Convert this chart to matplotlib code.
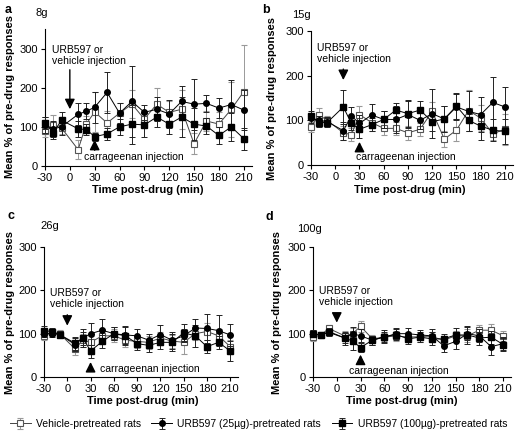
import numpy as np
import matplotlib
matplotlib.use('Agg')
import matplotlib.pyplot as plt

plt.rcParams['font.family'] = ['Liberation Sans', 'DejaVu Sans']
plt.rcParams['axes.unicode_minus'] = False

# sampling times (min relative to drug injection)
time = [-30, -20, -10, 10, 20, 30, 45, 60, 75, 90, 105, 120, 135, 150, 165, 180, 195, 210]

# panel a: 8g filament
veh_a = [90, 105, 97, 42, 108, 138, 110, 135, 158, 120, 158, 137, 145, 57, 115, 107, 145, 190]
veh_a_err = [15, 25, 15, 25, 20, 50, 30, 25, 35, 15, 40, 30, 50, 27, 25, 30, 70, 120]
u25_a = [105, 95, 100, 132, 140, 150, 188, 135, 165, 137, 145, 133, 165, 158, 160, 148, 157, 143]
u25_a_err = [20, 20, 20, 28, 20, 40, 52, 25, 90, 20, 30, 35, 40, 65, 22, 25, 63, 50]
u100_a = [110, 85, 117, 95, 93, 75, 82, 100, 107, 105, 125, 107, 125, 107, 102, 78, 100, 70]
u100_a_err = [15, 15, 20, 20, 15, 10, 15, 20, 50, 30, 25, 25, 50, 40, 20, 22, 35, 28]

# panel b: 15g filament
veh_b = [85, 112, 100, 72, 68, 113, 95, 82, 82, 72, 80, 120, 58, 78, 122, 105, 70, 80]
veh_b_err = [12, 15, 10, 15, 15, 20, 20, 15, 15, 15, 15, 20, 18, 25, 45, 30, 15, 35]
u25_b = [105, 100, 97, 77, 110, 93, 112, 102, 102, 113, 100, 115, 103, 130, 120, 113, 140, 130]
u25_b_err = [10, 10, 10, 20, 20, 20, 25, 20, 30, 30, 20, 55, 30, 30, 45, 40, 57, 45]
u100_b = [110, 95, 95, 130, 93, 80, 90, 102, 123, 115, 123, 97, 103, 132, 100, 87, 78, 75]
u100_b_err = [10, 10, 10, 38, 15, 20, 15, 20, 15, 30, 20, 20, 30, 30, 25, 30, 25, 28]

# panel c: 26g filament
veh_c = [95, 103, 100, 65, 85, 80, 95, 95, 85, 82, 80, 90, 83, 80, 100, 105, 95, 70]
veh_c_err = [10, 8, 8, 15, 15, 15, 15, 15, 15, 15, 15, 15, 15, 27, 15, 20, 15, 15]
u25_c = [100, 100, 98, 75, 90, 100, 108, 100, 97, 95, 85, 98, 85, 95, 113, 112, 107, 97]
u25_c_err = [8, 8, 8, 15, 20, 25, 25, 15, 20, 15, 15, 22, 20, 15, 20, 33, 35, 25]
u100_c = [107, 105, 98, 78, 90, 60, 82, 100, 95, 77, 73, 80, 80, 102, 95, 70, 80, 60]
u100_c_err = [10, 8, 8, 15, 15, 15, 15, 15, 20, 15, 15, 15, 20, 20, 25, 15, 15, 22]

# panel d: 100g filament
veh_d = [92, 97, 112, 95, 100, 117, 88, 92, 95, 92, 93, 93, 85, 95, 95, 108, 108, 95]
veh_d_err = [8, 6, 8, 12, 12, 12, 10, 10, 12, 12, 12, 12, 10, 12, 15, 12, 15, 12]
u25_d = [100, 97, 105, 90, 100, 95, 85, 92, 100, 100, 97, 95, 72, 82, 100, 95, 70, 77]
u25_d_err = [8, 6, 8, 12, 15, 15, 10, 12, 12, 12, 12, 15, 15, 17, 15, 15, 20, 15]
u100_d = [100, 97, 103, 90, 83, 68, 85, 93, 98, 88, 92, 88, 88, 97, 97, 90, 92, 75]
u100_d_err = [8, 6, 8, 15, 20, 10, 10, 15, 12, 12, 12, 15, 12, 15, 20, 15, 15, 15]

W, H = 517.0, 436.0
fig = plt.figure(figsize=(W/100, H/100), dpi=100)

# pixel box -> figure fraction
def box(l, t, r, b):
	return [l/W, 1-b/H, (r-l)/W, (b-t)/H]

# draws one panel
# pos: pixel box, ytop: upper y limit, urb: (x, text y, arrow top, arrow tip)
# carr: (arrow x, arrow base, arrow tip, text x, text y)
def panel(pos, ytop, veh, veh_e, u25, u25_e, u100, u100_e, urb, carr):
	ax = fig.add_axes(box(*pos))
	ax.errorbar(time, veh, yerr=veh_e, fmt='-s', color='#444444', mfc='white', mec='#555555',
		ms=4, mew=0.8, lw=0.7, ecolor='#999999', elinewidth=0.7, capsize=2.5, capthick=0.7,
		clip_on=False, zorder=3, label='Vehicle-pretreated rats')
	ax.errorbar(time, u25, yerr=u25_e, fmt='-o', color='black', ms=4, lw=0.7,
		ecolor='#222222', elinewidth=0.7, capsize=2.5, capthick=0.7, clip_on=False, zorder=4,
		label='URB597 (25\u00b5g)-pretreated rats')
	ax.errorbar(time, u100, yerr=u100_e, fmt='-s', color='black', ms=4, lw=0.7,
		ecolor='#222222', elinewidth=0.7, capsize=2.5, capthick=0.7, clip_on=False, zorder=4,
		label='URB597 (100\u00b5g)-pretreated rats')
	ax.set_xlim(-30, 220)
	ax.set_ylim(0, ytop)
	ax.set_xticks(range(-30, 211, 30))
	ax.set_yticks([0, 100, 200, 300])
	ax.spines['top'].set_visible(False)
	ax.spines['right'].set_visible(False)
	ax.tick_params(labelsize=8, length=3, width=0.8, pad=2)
	ax.patch.set_alpha(0)

	# injection arrows
	ux, uy, ua, ut = urb
	ax.text(-22, uy, 'URB597 or\nvehicle injection', fontsize=7.5, va='center', ha='left', linespacing=1.15)
	ax.annotate('', xy=(ux, ut), xytext=(ux, ua),
		arrowprops=dict(arrowstyle='-|>', color='black', lw=1, mutation_scale=15))
	cx, cb, ct, tx, ty = carr
	ax.annotate('', xy=(cx, ct), xytext=(cx, cb),
		arrowprops=dict(arrowstyle='-|>', color='black', lw=1, mutation_scale=15))
	ax.text(tx, ty, 'carrageenan injection', fontsize=7.5, va='center', ha='left')
	return ax

axa = panel((45, 29, 252, 166), 350, veh_a, veh_a_err, u25_a, u25_a_err, u100_a, u100_a_err,
	(0, 283, 253, 138), (30, 33, 74, 17, 22))
axb = panel((311, 31, 513, 165), 300, veh_b, veh_b_err, u25_b, u25_b_err, u100_b, u100_b_err,
	(10, 250, 221, 184), (30, 38, 58, 26, 18))
axc = panel((44, 247, 238, 377), 300, veh_c, veh_c_err, u25_c, u25_c_err, u100_c, u100_c_err,
	(0, 181, 150, 112), (30, 11, 41, 42, 19))
axd = panel((313, 247, 511, 377), 300, veh_d, veh_d_err, u25_d, u25_d_err, u100_d, u100_d_err,
	(0, 186, 150, 119), (30, 30, 58, 15, 15))

# panel letters and filament weights
for lx, ly, let, gx, gy, g in [(5, 10, 'a', 35, 13, '8g'), (262, 10, 'b', 292, 15, '15g'),
		(8, 216, 'c', 40, 226, '26g'), (265, 217, 'd', 297, 229, '100g')]:
	fig.text(lx/W, 1-ly/H, let, fontsize=9, fontweight='bold', va='center')
	fig.text(gx/W, 1-gy/H, g, fontsize=8, va='center')

# axis titles
for x, y in [(10, 97), (272, 98), (10, 312), (277, 312)]:
	fig.text(x/W, 1-y/H, 'Mean % of pre-drug responses', fontsize=8, fontweight='bold',
		rotation=90, ha='center', va='center')
for x, y in [(148, 190), (410, 190), (143, 401), (402, 401)]:
	fig.text(x/W, 1-y/H, 'Time post-drug (min)', fontsize=8, fontweight='bold', ha='center', va='center')

h, l = axa.get_legend_handles_labels()
fig.legend(h, l, loc='center', bbox_to_anchor=(0.5, 1-424/H), ncol=3, frameon=False,
	fontsize=7.5, handlelength=2, handletextpad=0.5, columnspacing=1.0, borderaxespad=0)

plt.savefig('out.png', dpi=100)
